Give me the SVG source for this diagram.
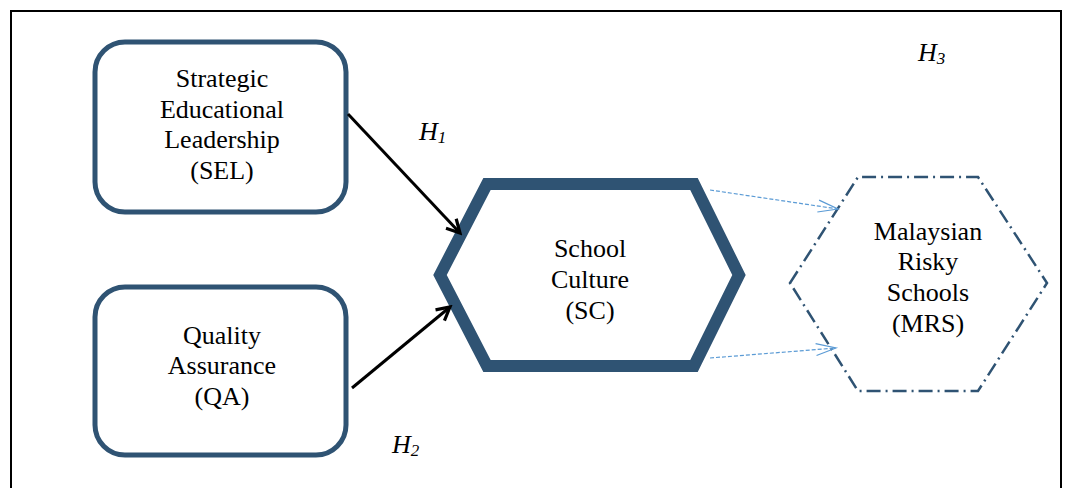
<svg xmlns="http://www.w3.org/2000/svg" width="1065" height="488" viewBox="0 0 1065 488">
  <style>
    text { font-family: "Liberation Serif", "DejaVu Serif", serif; }
    .lbl { font-size: 26px; fill: #000; text-anchor: middle; }
    .hyp { font-size: 26px; font-style: italic; fill: #000; }
    .box { fill: #fff; stroke: #2F5373; stroke-width: 5; }
  </style>
  <defs>
    <marker id="blackHead" markerWidth="18" markerHeight="18" refX="15" refY="9" orient="auto" markerUnits="userSpaceOnUse">
      <path d="M2,2 L15,9 L2,16" fill="none" stroke="#000" stroke-width="3.2"/>
    </marker>
    <marker id="blueHead" markerWidth="24" markerHeight="16" refX="21" refY="8" orient="auto" markerUnits="userSpaceOnUse">
      <path d="M1,2 L21,8 L1,14" fill="none" stroke="#5B9BD5" stroke-width="1.2"/>
    </marker>
  </defs>

  <rect width="1065" height="488" fill="#fff"/>
  <!-- outer frame (open at the bottom) -->
  <path d="M11,490 L11,11 L1061,11 L1061,490" fill="none" stroke="#000" stroke-width="2"/>

  <g id="node-sel">
    <rect class="box" x="95" y="42" width="251" height="170" rx="30"/>
    <text class="lbl" x="222" y="87">Strategic</text>
    <text class="lbl" x="222" y="118">Educational</text>
    <text class="lbl" x="222" y="148">Leadership</text>
    <text class="lbl" x="222" y="179">(SEL)</text>
  </g>

  <g id="node-qa">
    <rect class="box" x="95" y="287" width="251" height="168" rx="30"/>
    <text class="lbl" x="222" y="344">Quality</text>
    <text class="lbl" x="222" y="374">Assurance</text>
    <text class="lbl" x="222" y="405">(QA)</text>
  </g>

  <g id="node-sc">
    <polygon points="440,275 487,184 694,184 739,275 694,366 487,366" fill="#fff" stroke="#2F5373" stroke-width="12" stroke-linejoin="miter"/>
    <text class="lbl" x="590" y="257">School</text>
    <text class="lbl" x="590" y="288">Culture</text>
    <text class="lbl" x="590" y="319">(SC)</text>
  </g>

  <g id="node-mrs">
    <polygon points="790,283 858,177 978,177 1047,283 978,391 858,391" fill="#fff" stroke="#2F5373" stroke-width="2.5" stroke-dasharray="14,5,2,5"/>
    <text class="lbl" x="928" y="240">Malaysian</text>
    <text class="lbl" x="928" y="270">Risky</text>
    <text class="lbl" x="928" y="301">Schools</text>
    <text class="lbl" x="928" y="332">(MRS)</text>
  </g>

  <g id="connectors">
    <line x1="348" y1="114" x2="460" y2="233" stroke="#000" stroke-width="3" marker-end="url(#blackHead)"/>
    <line x1="352" y1="388" x2="450" y2="307" stroke="#000" stroke-width="3" marker-end="url(#blackHead)"/>
    <line x1="710" y1="190" x2="838" y2="209" stroke="#5B9BD5" stroke-width="1.2" stroke-dasharray="4,2" marker-end="url(#blueHead)"/>
    <line x1="710" y1="358" x2="836" y2="348" stroke="#5B9BD5" stroke-width="1.2" stroke-dasharray="4,2" marker-end="url(#blueHead)"/>
  </g>

  <g id="hypotheses">
    <text class="hyp" x="419" y="140">H<tspan font-size="17" dy="3">1</tspan></text>
    <text class="hyp" x="392" y="453">H<tspan font-size="17" dy="3">2</tspan></text>
    <text class="hyp" x="918" y="61">H<tspan font-size="17" dy="3">3</tspan></text>
  </g>
</svg>
